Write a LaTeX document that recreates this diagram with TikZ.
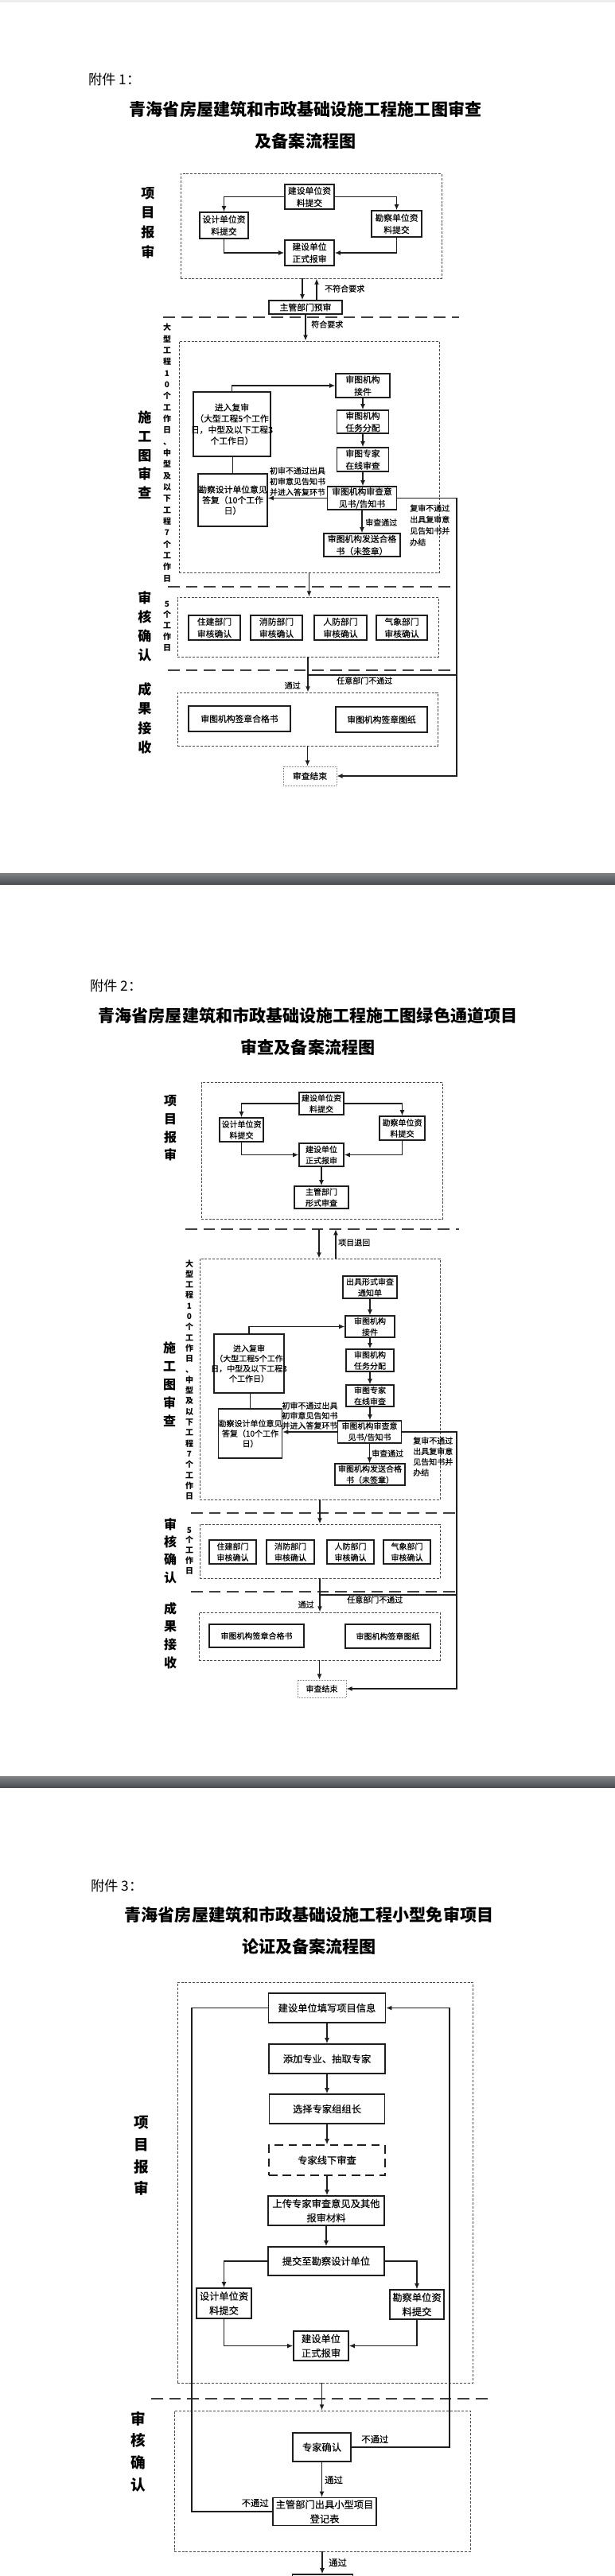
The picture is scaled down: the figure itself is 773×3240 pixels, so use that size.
\documentclass[tikz,border=0pt]{standalone}
\usepackage{fontspec}
\setmainfont{Noto Sans CJK SC}
\newfontfamily\bxf{Noto Sans CJK SC}[FakeBold=0.25]
\usetikzlibrary{arrows.meta,calc}
\definecolor{ink}{HTML}{1E1E1E}
\definecolor{barc}{HTML}{4A4E52}
\tikzset{
  bx/.style={draw=ink, line width=0.9pt, inner sep=0pt, align=center, font=\fontsize{8.1}{11.5}\selectfont\bxf},
  bxs/.style={bx, font=\fontsize{7.5}{10.5}\selectfont\bxf},
  bxl/.style={bx, font=\fontsize{9.2}{13.5}\selectfont\bxf},
  sz/.style 2 args={minimum width=#1*0.75pt, minimum height=#2*0.75pt},
  grp/.style={draw=ink!80, line width=0.6pt, dash pattern=on 2.2pt off 1.4pt, inner sep=0pt},
  divl/.style={draw=ink!85, line width=1pt, dash pattern=on 11pt off 6pt},
  ln/.style={draw=ink, line width=1.3pt},
  arr/.style={ln, -{Latex[length=5.5pt,width=4.5pt]}},
  lab/.style 2 args={font=\fontsize{#1}{#2}\selectfont\bfseries, align=center, inner sep=0pt},
  days/.style={font=\fontsize{7.5}{#1}\selectfont\bfseries, align=center, inner sep=0pt},
  note/.style={font=\fontsize{7.5}{#1}\selectfont\bxf, inner sep=0pt, align=left},
  note/.default=10pt,
  fj/.style={font=\fontsize{13}{16}\selectfont, anchor=west, inner sep=0pt},
  ttl/.style={font=\fontsize{15.8}{30}\selectfont\bfseries, align=center, inner sep=0pt},
  fin/.style={draw=ink!60, line width=0.5pt, densely dotted, inner sep=0pt}
}
\begin{document}
\begin{tikzpicture}[x=0.75pt, y=-0.75pt]
\useasboundingbox (0,0) rectangle (773,3240);
\fill[white] (0,0) rectangle (773,3240);
\fill[black!7] (0,0) rectangle (773,3);
\shade[top color=barc!70, bottom color=barc] (0,1098) rectangle (773,1112);
\shade[top color=barc!70, bottom color=barc] (0,2234) rectangle (773,2248);

% attachment 1
\node[fj] (h1) at (111,100) {附件 1：};
\node[ttl] (t1) at (384,157) {青海省房屋建筑和市政基础设施工程施工图审查\\及备案流程图};

\node[grp, sz={328}{132}] (g1a) at (391,284) {};
\node[lab={12.8}{18.5}] (l1a) at (186,280) {项\\目\\报\\审};
\node[bx, sz={62}{31}] (a1top) at (389,247.5) {建设单位资\\料提交};
\node[bx, sz={61}{33}] (a1des) at (281.5,283.5) {设计单位资\\料提交};
\node[bx, sz={63}{33}] (a1sur) at (498.5,281.5) {勘察单位资\\料提交};
\node[bx, sz={62}{32}] (a1bld) at (389,318) {建设单位\\正式报审};
\draw[arr] (a1top.west) -| (a1des.north);
\draw[arr] (a1top.east) -| (a1sur.north);
\draw[arr] (a1des.south) |- (a1bld.west);
\draw[arr] (a1sur.south) |- (a1bld.east);

\node[bx, sz={92}{17}] (a1pre) at (384,386.5) {主管部门预审};
\draw[arr] ($(a1pre.north |- g1a.south)+(-4,0)$) -- ($(a1pre.north)+(-4,0)$);
\draw[arr] ($(a1pre.north)+(14,0)$) -- ($(a1pre.north |- g1a.south)+(14,0)$);
\node[note, anchor=west] (n1a) at (408,363) {不符合要求};
\draw[divl] (205,399) -- (577,399);

\node[grp, sz={327}{291}] (g1b) at (388.5,574.5) {};
\draw[arr] (a1pre.south) -- (a1pre.south |- g1b.north);
\node[note, anchor=west] (n1b) at (391,408) {符合要求};
\node[lab={12.8}{17.8}] (l1b) at (182,572.5) {施\\工\\图\\审\\查};
\node[days=10.75pt] (v1a) at (210,569.5) {大\\型\\工\\程\\1\\0\\个\\工\\作\\日\\、\\中\\型\\及\\以\\下\\工\\程\\7\\个\\工\\作\\日};
\node[bx, sz={68}{30}] (b1rec) at (456,485) {审图机构\\接件};
\node[bx, sz={65}{29}] (b1asg) at (456,530.5) {审图机构\\任务分配};
\node[bx, sz={65}{30}] (b1exp) at (456,578) {审图专家\\在线审查};
\node[bx, sz={87}{29}] (b1op) at (455,626.5) {审图机构审查意\\见书/告知书};
\node[bx, sz={96}{29}] (b1ok) at (455,685.5) {审图机构发送合格\\书（未签章）};
\node[bx, sz={97}{81}, font=\fontsize{8.1}{10.5}\selectfont\bxf] (b1rev) at (291.5,533.5) {进入复审\\（大型工程5个工作\\\makebox[0pt]{日，中型及以下工程3}\\个工作日）};
\node[bx, sz={87}{66}, font=\fontsize{8.1}{10}\selectfont\bxf] (b1ans) at (292.5,629) {勘察设计单位意见\\答复（10个工作\\日）};
\draw[arr] (b1rev.north) |- (b1rec.west);
\draw[arr] (b1rec.south) -- (b1rec.south |- b1asg.north);
\draw[arr] (b1asg.south) -- (b1asg.south |- b1exp.north);
\draw[arr] (b1exp.south) -- (b1exp.south |- b1op.north);
\draw[arr] (b1op.south) -- (b1op.south |- b1ok.north);
\draw[arr] (b1op.west) -- (b1op.west -| b1ans.east);
\draw[ln] (b1ans.north) -- (b1ans.north |- b1rev.south);
\node[note=10.1pt, align=center] (n1c) at (374,605.5) {初审不通过出具\\初审意见告知书\\并进入答复环节};
\node[note, anchor=west] (n1d) at (459,657) {审查通过};
\node[note=10.7pt, anchor=west] (n1e) at (515,660.5) {复审不通过\\出具复审意\\见告知书并\\办结};

\draw[divl] (211,738) -- (574,738);
\node[grp, sz={328}{75}] (g1c) at (387,788.5) {};
\draw[arr] (g1b.south) -- (g1b.south |- g1c.north);
\node[lab={12.8}{18}] (l1c) at (182,788) {审\\核\\确\\认};
\node[days=10.3pt] (v1b) at (210,787.5) {5\\个\\工\\作\\日};
\node[bx, sz={65}{31}] (c1a) at (269.5,789.5) {住建部门\\审核确认};
\node[bx, sz={65}{31}] (c1b) at (347.5,789.5) {消防部门\\审核确认};
\node[bx, sz={66}{31}] (c1c) at (428,789.5) {人防部门\\审核确认};
\node[bx, sz={64}{31}] (c1d) at (505,789.5) {气象部门\\审核确认};

\draw[divl] (211,843) -- (574,843);
\node[grp, sz={327}{67}] (g1d) at (386.5,904.5) {};
\draw[arr] (g1c.south) -- (g1c.south |- g1d.north);
\node[note, anchor=east] (n1f) at (378,862) {通过};
\coordinate (r1b) at (574,849);
\draw[ln] (g1c.south |- r1b) -- (r1b);
\node[note, anchor=west] (n1g) at (423,856) {任意部门不通过};
\node[lab={12.8}{18.2}] (l1d) at (182,903.5) {成\\果\\接\\收};
\node[bx, sz={128}{32}] (d1a) at (301,904) {审图机构签章合格书};
\node[bx, sz={115}{32}] (d1b) at (479.5,905) {审图机构签章图纸};
\node[fin, sz={67}{24}, font=\fontsize{8.1}{10}\selectfont\bxf] (e1) at (389.5,976) {审查结束};
\draw[arr] (g1d.south) -- (g1d.south |- e1.north);
\coordinate (r1) at (574,0);
\draw[arr] (b1op.east) -| (r1 |- e1.east) -- (e1.east);

% attachment 2
\node[fj] (h2) at (113,1240) {附件 2：};
\node[ttl] (t2) at (387,1297) {青海省房屋建筑和市政基础设施工程施工图绿色通道项目\\审查及备案流程图};

\node[grp, sz={303}{172}] (g2a) at (404.5,1447) {};
\node[lab={12}{17}] (l2a) at (214,1419) {项\\目\\报\\审};
\node[bxs, sz={56}{28}] (a2top) at (404,1388) {建设单位资\\料提交};
\node[bxs, sz={55}{30}] (a2des) at (303.5,1421) {设计单位资\\料提交};
\node[bxs, sz={57}{30}] (a2sur) at (505.5,1419) {勘察单位资\\料提交};
\node[bxs, sz={56}{29}] (a2bld) at (404,1452.5) {建设单位\\正式报审};
\node[bxs, sz={68}{28}] (a2frm) at (404,1506) {主管部门\\形式审查};
\draw[arr] (a2top.west) -| (a2des.north);
\draw[arr] (a2top.east) -| (a2sur.north);
\draw[arr] (a2des.south) |- (a2bld.west);
\draw[arr] (a2sur.south) |- (a2bld.east);
\draw[arr] (a2bld.south) -- (a2frm.north);

\draw[divl] (233,1546) -- (577,1546);
\coordinate (s2) at (0,1546);
\node[grp, sz={302}{303}] (g2b) at (402,1734.5) {};
\draw[arr] ($(g2b.north |- s2)+(-1,0)$) -- ($(g2b.north)+(-1,0)$);
\draw[arr] ($(g2b.north)+(20,0)$) -- ($(g2b.north |- s2)+(20,0)$);
\node[note, anchor=west] (n2a) at (425,1563) {项目退回};
\node[lab={12}{17.25}] (l2b) at (213,1741) {施\\工\\图\\审\\查};
\node[days=9.98pt] (v2a) at (238,1735.5) {大\\型\\工\\程\\1\\0\\个\\工\\作\\日\\、\\中\\型\\及\\以\\下\\工\\程\\7\\个\\工\\作\\日};
\node[bxs, sz={68}{28}] (b2ntc) at (465,1619) {出具形式审查\\通知单};
\node[bxs, sz={62}{27}] (b2rec) at (465,1668.5) {审图机构\\接件};
\node[bxs, sz={60}{28}] (b2asg) at (465,1711) {审图机构\\任务分配};
\node[bxs, sz={60}{27}] (b2exp) at (465,1755.5) {审图专家\\在线审查};
\node[bxs, sz={80}{28}] (b2op) at (464.5,1801) {审图机构审查意\\见书/告知书};
\node[bxs, sz={88}{27}] (b2ok) at (465,1854.5) {审图机构发送合格\\书（未签章）};
\node[bxs, sz={88}{74}, font=\fontsize{7.5}{9.5}\selectfont\bxf] (b2rev) at (313,1715) {进入复审\\（大型工程5个工作\\\makebox[0pt]{日，中型及以下工程3}\\个工作日）};
\node[bxs, sz={79}{62}, font=\fontsize{7.5}{9.5}\selectfont\bxf] (b2ans) at (314.5,1803) {勘察设计单位意见\\答复（10个工作\\日）};
\draw[arr] (b2ntc.south) -- (b2ntc.south |- b2rec.north);
\draw[arr] (b2rev.north) |- (b2rec.west);
\draw[arr] (b2rec.south) -- (b2rec.south |- b2asg.north);
\draw[arr] (b2asg.south) -- (b2asg.south |- b2exp.north);
\draw[arr] (b2exp.south) -- (b2exp.south |- b2op.north);
\draw[arr] (b2op.south) -- (b2op.south |- b2ok.north);
\draw[arr] (b2op.west) -- (b2op.west -| b2ans.east);
\draw[ln] (b2ans.north) -- (b2ans.north |- b2rev.south);
\node[note=9.4pt, align=center] (n2b) at (389.5,1780.5) {初审不通过出具\\初审意见告知书\\并进入答复环节};
\node[note, anchor=west] (n2c) at (467,1828) {审查通过};
\node[note=10pt, anchor=west] (n2d) at (519,1832) {复审不通过\\出具复审意\\见告知书并\\办结};

\draw[divl] (240,1903) -- (574,1903);
\node[grp, sz={302}{68}] (g2c) at (402,1951) {};
\draw[arr] (g2b.south) -- (g2b.south |- g2c.north);
\node[lab={12}{16.7}] (l2c) at (214,1950.5) {审\\核\\确\\认};
\node[days=9.56pt] (v2b) at (238,1950.5) {5\\个\\工\\作\\日};
\node[bxs, sz={59}{30}] (c2a) at (292.5,1952) {住建部门\\审核确认};
\node[bxs, sz={60}{30}] (c2b) at (365,1952) {消防部门\\审核确认};
\node[bxs, sz={59}{30}] (c2c) at (440.5,1952) {人防部门\\审核确认};
\node[bxs, sz={59}{30}] (c2d) at (511.5,1952) {气象部门\\审核确认};

\draw[divl] (240,2002) -- (574,2002);
\node[grp, sz={303}{60}] (g2d) at (401.5,2058) {};
\draw[arr] (g2c.south) -- (g2c.south |- g2d.north);
\node[note, anchor=east] (n2e) at (395,2018) {通过};
\coordinate (r2b) at (574,2006);
\draw[ln] (g2c.south |- r2b) -- (r2b);
\node[note, anchor=west] (n2f) at (436,2012) {任意部门不通过};
\node[lab={12}{17}] (l2d) at (214,2057) {成\\果\\接\\收};
\node[bxs, sz={119}{29}] (d2a) at (322.5,2057.5) {审图机构签章合格书};
\node[bxs, sz={107}{30}] (d2b) at (487.5,2058) {审图机构签章图纸};
\node[fin, sz={61}{22}, font=\fontsize{7.5}{10}\selectfont\bxf] (e2) at (404.5,2124) {审查结束};
\draw[arr] (g2d.south) -- (g2d.south |- e2.north);
\coordinate (r2) at (574,0);
\draw[arr] (b2op.east) -| (r2 |- e2.east) -- (e2.east);

% attachment 3
\node[fj] (h3) at (114,2372) {附件 3：};
\node[ttl] (t3) at (388.5,2428) {青海省房屋建筑和市政基础设施工程小型免审项目\\论证及备案流程图};

\node[grp, sz={371}{504}] (g3a) at (408.5,2745) {};
\node[lab={14}{20.8}] (l3a) at (178,2711.5) {项\\目\\报\\审};
\node[bxl, sz={147}{37}] (c3info) at (411,2525.5) {建设单位填写项目信息};
\node[bxl, sz={146}{37}] (c3add) at (411,2589.5) {添加专业、抽取专家};
\node[bxl, sz={145}{37}] (c3lead) at (411,2652.5) {选择专家组组长};
\node[bxl, sz={146}{38}, dash pattern=on 8pt off 5pt] (c3off) at (411,2717) {专家线下审查};
\node[bxl, sz={146}{37}] (c3up) at (410,2780.5) {上传专家审查意见及其他\\报审材料};
\node[bxl, sz={146}{36}] (c3sub) at (410,2844) {提交至勘察设计单位};
\node[bxl, sz={69}{38}] (c3des) at (281.5,2897) {设计单位资\\料提交};
\node[bxl, sz={68}{37}] (c3sur) at (524,2898.5) {勘察单位资\\料提交};
\node[bxl, sz={69}{37}] (c3bld) at (403.5,2950.5) {建设单位\\正式报审};
\draw[arr] (c3info.south) -- (c3info.south |- c3add.north);
\draw[arr] (c3add.south) -- (c3add.south |- c3lead.north);
\draw[arr] (c3lead.south) -- (c3lead.south |- c3off.north);
\draw[arr] (c3off.south) -- (c3off.south |- c3up.north);
\draw[arr] (c3up.south) -- (c3up.south |- c3sub.north);
\draw[arr] (c3sub.west) -| (c3des.north);
\draw[arr] (c3sub.east) -| (c3sur.north);
\draw[arr] (c3des.south) |- (c3bld.west);
\draw[arr] (c3sur.south) |- (c3bld.east);

\draw[divl] (190,3017) -- (613,3017);
\node[grp, sz={372}{177}] (g3b) at (405,3120.5) {};
\draw[arr] ($(g3a.south)+(-4,0)$) -- ($(g3a.south |- g3b.north)+(-4,0)$);
\node[lab={14}{20.8}] (l3b) at (174,3083.5) {审\\核\\确\\认};
\node[bxl, sz={73}{36}] (c3exp) at (404.5,3078) {专家确认};
\node[bxl, sz={130}{35}] (c3reg) at (408,3159) {主管部门出具小型项目\\登记表};
\draw[arr] (c3exp.south) -- (c3exp.south |- c3reg.north);
\node[note, anchor=west, font=\fontsize{8.5}{10}\selectfont\bxf] (n3a) at (408,3119) {通过};
\coordinate (l3) at (241,0);
\draw[ln] (c3reg.west) -| (l3 |- c3info.west) -- (c3info.west);
\node[note, anchor=east, font=\fontsize{8.5}{10}\selectfont\bxf] (n3b) at (338,3148) {不通过};
\coordinate (r3) at (565,0);
\draw[arr] (c3exp.east) -| (r3 |- c3info.east) -- (c3info.east);
\node[note, anchor=west, font=\fontsize{8.5}{10}\selectfont\bxf] (n3c) at (454,3068) {不通过};
\node[bxl, sz={76}{40}] (c3nxt) at (405.5,3258) {};
\draw[arr] (g3b.south) -- (g3b.south |- c3nxt.north);
\node[note, anchor=west, font=\fontsize{8.5}{10}\selectfont\bxf] (n3d) at (413,3223) {通过};
\end{tikzpicture}
\end{document}
